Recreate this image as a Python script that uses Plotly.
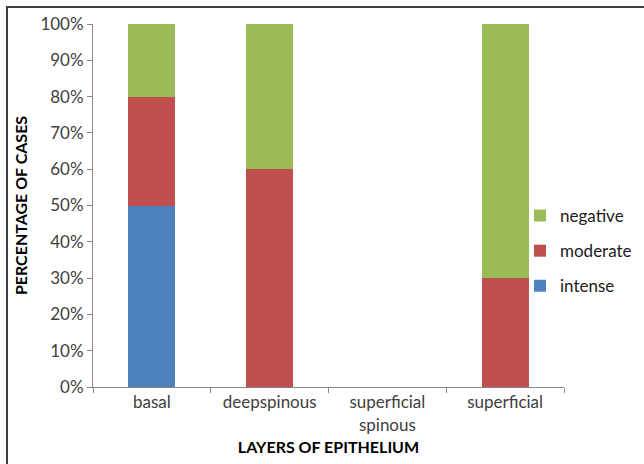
import plotly.graph_objects as go

categories = ["basal", "deepspinous", "superficial<br>spinous", "superficial"]
intense = [50, 0, 0, 0]
moderate = [30, 60, 0, 30]
negative = [20, 40, 0, 70]
y_ticks = list(range(0, 101, 10))

FONT = "Lato"
L, R, T, B = 93, 80, 24, 77
W, H = 644, 464
pw, ph = W - L - R, H - T - B

def px(x):
    return (x - L) / pw

def py(y):
    return (H - B - y) / ph

fig = go.Figure()
for name, vals, col, rank in [("intense", intense, "#4f81bd", 3),
                              ("moderate", moderate, "#c0504d", 2),
                              ("negative", negative, "#9bbb59", 1)]:
    fig.add_trace(go.Bar(x=categories, y=vals, name=name, marker_color=col,
                         marker_line_width=0, legendgroup=name, legendrank=rank))

fig.update_layout(
    width=W, height=H,
    margin=dict(l=L, r=R, t=T, b=B, autoexpand=False),
    barmode="stack", bargap=0.6,
    plot_bgcolor="white", paper_bgcolor="white",
    font=dict(family=FONT, size=17, color="#404040"),
    showlegend=True,
    legend=dict(x=px(520), y=py(198), xanchor="left", yanchor="top",
                traceorder="grouped", tracegroupgap=10,
                font=dict(size=17, color="#202020"), bgcolor="rgba(0,0,0,0)"),
    shapes=[
        dict(type="rect", xref="paper", yref="paper", x0=px(7), x1=px(W + 10),
             y0=py(H + 10), y1=py(7), line=dict(color="#404040", width=2),
             fillcolor="rgba(0,0,0,0)", layer="above"),
    ],
)
fig.update_yaxes(range=[0, 100], tickvals=y_ticks, ticktext=[f"{v}%" for v in y_ticks],
                 showgrid=False, showline=True, linecolor="#868686", linewidth=1,
                 ticks="outside", ticklen=5, tickcolor="#868686", zeroline=False,
                 title=dict(text="<b>PERCENTAGE OF CASES</b>", font=dict(size=16, color="black"),
                            standoff=8))
fig.update_xaxes(showgrid=False, showline=True, linecolor="#868686", linewidth=1,
                 ticks="outside", ticklen=5, tickcolor="#868686", tickson="boundaries",
                 title=dict(text="<b>LAYERS OF EPITHELIUM</b>", font=dict(size=16, color="black"),
                            standoff=8))

fig.write_html("out.html", config={"displayModeBar": False},
               post_script="document.body.style.margin='0';")
